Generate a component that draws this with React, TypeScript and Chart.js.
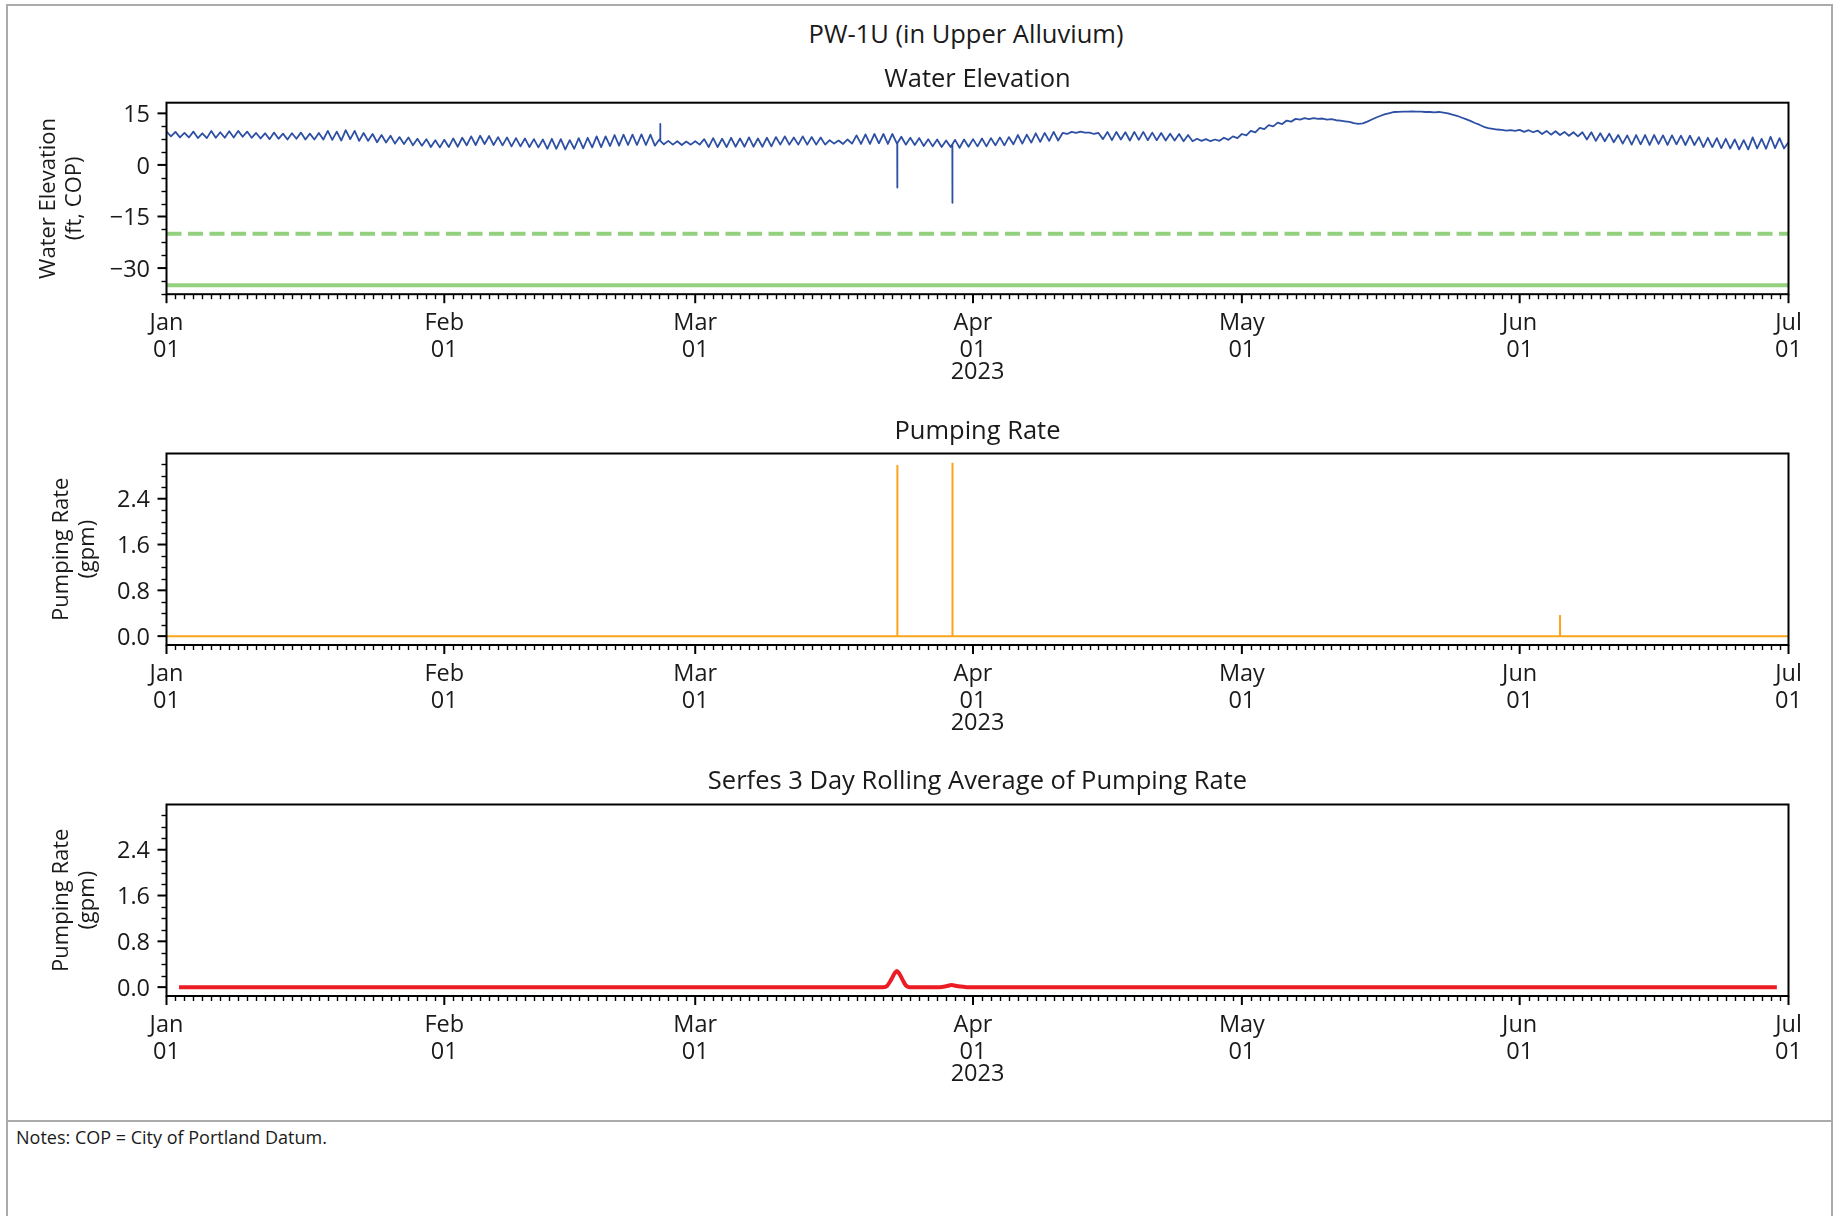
import React, { useEffect, useRef } from 'react';
import { Chart, registerables } from 'chart.js';

Chart.register(...registerables);

const FONT = '"Open Sans", "DejaVu Sans", sans-serif';
const TEXT = '#1a1a1a';

// ---------- axis categories ----------
const monthStartDays = [0, 31, 59, 90, 120, 151, 181]; // day offsets from 2023-01-01
const monthNames = ['Jan', 'Feb', 'Mar', 'Apr', 'May', 'Jun', 'Jul'];
const yearLabel = '2023';

const elevMajorTicks = [-30, -15, 0, 15];
const rateMajorTicks = [0, 0.8, 1.6, 2.4];

// ---------- water elevation (ft, COP) ----------
// daily high (at 00:00 of each day) and low (at 12:00)
const elevHighJan = [9.7, 9.6, 9.3, 9.7, 9.2, 9.9, 9.5, 9.8, 9.9, 9.7, 9.3, 9.2, 9.4, 9.1, 9.2, 9.4, 9.1, 9.3, 9.9, 9.7, 10.1, 9.9, 9.3, 9.0, 8.7, 8.5, 8.1, 8.0, 7.6, 7.5, 7.2];
const elevLowJan = [8.3, 8.0, 8.0, 7.8, 7.8, 7.9, 7.9, 8.0, 8.2, 7.9, 7.7, 7.5, 7.6, 7.4, 7.6, 7.4, 7.4, 7.4, 7.3, 7.1, 7.5, 7.0, 7.0, 6.6, 6.5, 6.2, 6.1, 5.7, 5.6, 5.2, 5.1];
const elevHighFeb = [7.3, 7.7, 7.9, 8.3, 8.5, 8.4, 8.1, 8.0, 7.8, 7.7, 7.5, 7.4, 7.6, 7.5, 7.2, 7.8, 7.9, 8.3, 8.3, 8.7, 8.8, 8.8, 8.9, 8.8, 7.4, 7.0, 6.9, 6.8];
const elevLowFeb = [5.2, 5.3, 5.7, 5.8, 6.1, 5.8, 5.7, 5.4, 5.4, 5.2, 5.1, 4.7, 4.7, 4.5, 4.7, 4.8, 5.1, 5.2, 5.5, 5.6, 5.8, 5.8, 5.8, 5.6, 6.0, 5.9, 5.8, 5.9];
const elevHighMar = [6.9, 7.5, 7.8, 7.6, 7.9, 7.7, 8.0, 7.7, 7.9, 8.1, 8.3, 8.0, 8.3, 8.1, 8.0, 7.2, 7.1, 7.4, 8.6, 8.9, 9.0, 9.0, 9.0, 8.2, 7.9, 7.8, 7.5, 7.4, 7.1, 7.3, 7.4];
const elevLowMar = [5.9, 5.2, 5.2, 5.2, 5.3, 5.3, 5.3, 5.3, 5.4, 5.9, 5.9, 5.9, 5.9, 5.9, 5.9, 6.2, 6.1, 6.2, 6.1, 6.1, 6.3, 6.1, 6.3, 5.9, 5.8, 5.5, 5.4, 5.2, 5.2, 5.0, 5.3];
const elevHighApr = [7.5, 7.7, 7.8, 8.0, 8.1, 8.7, 8.8, 9.2, 9.3, 9.6, 9.3, 9.6, 9.7, 9.4, 9.3, 9.6, 9.6, 9.5, 9.6, 9.6, 9.4, 9.3, 9.1, 9.0, 8.7, 7.6, 7.5, 7.4, 7.9, 8.3];
const elevLowApr = [5.4, 5.4, 5.7, 5.7, 6.0, 6.2, 6.5, 6.7, 7.0, 7.1, 9.0, 9.3, 9.4, 9.0, 7.5, 7.2, 7.4, 7.1, 7.3, 7.2, 7.2, 7.1, 7.1, 6.9, 6.9, 7.0, 6.9, 7.0, 7.3, 7.8];
const elevHighMay = [9.0, 9.9, 10.8, 11.6, 12.3, 12.9, 13.4, 13.6, 13.6, 13.5, 13.3, 12.9, 12.5, 11.95, 12.6, 13.8, 14.8, 15.4, 15.5, 15.6, 15.5, 15.4, 15.4, 15.0, 14.3, 13.3, 12.2, 11.1, 10.5, 10.2, 10.1];
const elevLowMay = [8.6, 9.5, 10.4, 11.2, 11.9, 12.6, 13.2, 13.3, 13.4, 13.2, 13.0, 12.7, 12.15, 12.1, 13.2, 14.3, 15.1, 15.45, 15.5, 15.5, 15.4, 15.3, 15.2, 14.6, 13.8, 12.8, 11.7, 10.7, 10.3, 10.0, 9.9];
const elevHighJun = [10.2, 10.1, 10.0, 9.9, 9.8, 9.6, 9.5, 9.5, 9.5, 9.2, 9.1, 8.7, 8.6, 8.7, 8.7, 8.7, 8.6, 8.6, 8.5, 8.5, 8.1, 7.9, 7.8, 7.6, 7.4, 7.2, 8.0, 7.6, 8.2, 7.8];
const elevLowJun = [9.6, 9.5, 9.0, 8.8, 8.7, 8.5, 8.3, 7.4, 7.0, 6.9, 6.6, 6.2, 5.9, 6.0, 5.8, 6.1, 5.8, 6.0, 5.8, 5.8, 5.2, 5.2, 4.9, 4.8, 4.5, 4.5, 4.8, 4.7, 4.9, 4.8];
const elevHighJul = [6.6];

// short transducer excursions: day, level just before, excursion level
const elevSpikeDays = [55.1, 81.55, 87.7];
const elevSpikeBase = [7.0, 6.3, 6.0];
const elevSpikeValues = [11.9, -6.6, -11.0];

// reference lines (ft, COP)
const dashedRefLevel = -20;
const solidRefLevel = -35;

// ---------- pumping rate (gpm) ----------
const pumpEventDays = [81.55, 87.7, 155.5];
const pumpEventRates = [2.99, 3.03, 0.37];
const pumpBaseRate = 0;

// ---------- Serfes 3 day rolling average (gpm) ----------
const avgDays = [1.4, 80.0, 80.4, 80.9, 81.25, 81.5, 81.75, 82.1, 82.5, 82.9, 86.3, 87.0, 87.6, 88.3, 89.3, 179.7];
const avgRates = [0, 0, 0.02, 0.14, 0.24, 0.28, 0.24, 0.14, 0.03, 0, 0, 0.015, 0.035, 0.015, 0, 0];

// ---------- build datasets ----------
const elevHighs = [...elevHighJan, ...elevHighFeb, ...elevHighMar, ...elevHighApr, ...elevHighMay, ...elevHighJun, ...elevHighJul];
const elevLows = [...elevLowJan, ...elevLowFeb, ...elevLowMar, ...elevLowApr, ...elevLowMay, ...elevLowJun];

function buildElevPoints() {
  const pts: { x: number; y: number }[] = [];
  for (let d = 0; d < elevHighs.length; d++) {
    pts.push({ x: d, y: elevHighs[d] });
    if (d < elevLows.length) pts.push({ x: d + 0.5, y: elevLows[d] });
  }
  elevSpikeDays.forEach((d, i) => {
    pts.push({ x: d - 0.01, y: elevSpikeBase[i] });
    pts.push({ x: d, y: elevSpikeValues[i] });
    pts.push({ x: d + 0.01, y: elevSpikeBase[i] });
  });
  pts.sort((a, b) => a.x - b.x);
  return pts;
}

function buildPumpPoints() {
  const pts: { x: number; y: number }[] = [{ x: monthStartDays[0], y: pumpBaseRate }];
  pumpEventDays.forEach((d, i) => {
    pts.push({ x: d - 0.02, y: pumpBaseRate });
    pts.push({ x: d, y: pumpEventRates[i] });
    pts.push({ x: d + 0.02, y: pumpBaseRate });
  });
  pts.push({ x: monthStartDays[monthStartDays.length - 1], y: pumpBaseRate });
  return pts;
}

const avgPoints = avgDays.map((d, i) => ({ x: d, y: avgRates[i] }));

const X_MIN = monthStartDays[0];
const X_MAX = monthStartDays[monthStartDays.length - 1];

function minorBetween(min: number, max: number, step: number, majors: number[]) {
  const out: number[] = [];
  const start = Math.ceil(min / step - 1e-9);
  const end = Math.floor(max / step + 1e-9);
  for (let k = start; k <= end; k++) {
    const v = +(k * step).toFixed(6);
    if (!majors.some((m) => Math.abs(m - v) < 1e-6)) out.push(v);
  }
  return out;
}

type Spec = {
  datasets: any[];
  yMin: number;
  yMax: number;
  yMajor: number[];
  yMinorStep: number;
  yFmt: (v: number) => string;
  yTitle: string[];
  yTitlePad: number;
  title: string;
  titleOffset: number;
  padTop: number;
  xAxisHeight: number;
};

const TICK_FONT = { family: FONT, size: 23.5, lineHeight: 1.13 };
const TITLE_SIZE = 25.5;

function decorPlugin(spec: Spec) {
  return {
    id: 'decor',
    afterDraw(chart: any) {
      const { ctx, chartArea: a, scales } = chart;
      const xs = scales.x;
      const ys = scales.y;
      ctx.save();
      ctx.strokeStyle = '#000';
      // x minor ticks (daily)
      ctx.lineWidth = 1.4;
      for (let d = X_MIN; d <= X_MAX; d++) {
        if (monthStartDays.includes(d)) continue;
        const px = Math.round(xs.getPixelForValue(d)) + 0.5;
        ctx.beginPath();
        ctx.moveTo(px, a.bottom);
        ctx.lineTo(px, a.bottom + 5);
        ctx.stroke();
      }
      // x major ticks (monthly)
      ctx.lineWidth = 2;
      monthStartDays.forEach((d) => {
        const px = xs.getPixelForValue(d);
        ctx.beginPath();
        ctx.moveTo(px, a.bottom);
        ctx.lineTo(px, a.bottom + 9);
        ctx.stroke();
      });
      // y minor ticks
      ctx.lineWidth = 1.4;
      minorBetween(spec.yMin, spec.yMax, spec.yMinorStep, spec.yMajor).forEach((v) => {
        const py = Math.round(ys.getPixelForValue(v)) + 0.5;
        ctx.beginPath();
        ctx.moveTo(a.left, py);
        ctx.lineTo(a.left - 5, py);
        ctx.stroke();
      });
      // y major ticks
      ctx.lineWidth = 2;
      spec.yMajor.forEach((v) => {
        const py = ys.getPixelForValue(v);
        ctx.beginPath();
        ctx.moveTo(a.left, py);
        ctx.lineTo(a.left - 9, py);
        ctx.stroke();
      });
      // frame
      ctx.lineWidth = 2;
      ctx.strokeRect(a.left, a.top, a.right - a.left, a.bottom - a.top);
      const cx = (a.left + a.right) / 2;
      ctx.fillStyle = TEXT;
      ctx.textAlign = 'center';
      ctx.textBaseline = 'middle';
      // year offset label
      ctx.font = `${TICK_FONT.size}px ${FONT}`;
      ctx.fillText(yearLabel, cx, a.bottom + 78);
      // subplot title
      ctx.font = `${TITLE_SIZE}px ${FONT}`;
      ctx.fillText(spec.title, cx, a.top - spec.titleOffset + 2);
      ctx.restore();
    },
  };
}

function buildConfig(spec: Spec): any {
  return {
    type: 'line',
    data: { datasets: spec.datasets },
    options: {
      responsive: false,
      maintainAspectRatio: false,
      animation: false,
      devicePixelRatio: 1,
      layout: { padding: { left: 0, right: 50.5, top: spec.padTop, bottom: 0 } },
      elements: { point: { radius: 0 }, line: { tension: 0 } },
      plugins: {
        legend: { display: false },
        tooltip: { enabled: false },
        title: { display: false },
      },
      scales: {
        x: {
          type: 'linear',
          min: X_MIN,
          max: X_MAX,
          grid: { display: false, drawTicks: false },
          border: { display: false },
          afterBuildTicks: (s: any) => {
            s.ticks = monthStartDays.map((v) => ({ value: v }));
          },
          afterFit: (s: any) => {
            s.height = spec.xAxisHeight;
          },
          ticks: {
            autoSkip: false,
            maxRotation: 0,
            minRotation: 0,
            padding: 16.25,
            color: TEXT,
            font: TICK_FONT,
            callback: (v: number) => {
              const i = monthStartDays.indexOf(v);
              return i >= 0 ? [monthNames[i], '01'] : '';
            },
          },
        },
        y: {
          type: 'linear',
          min: spec.yMin,
          max: spec.yMax,
          grid: { display: false, drawTicks: false },
          border: { display: false },
          afterBuildTicks: (s: any) => {
            s.ticks = spec.yMajor.map((v) => ({ value: v }));
          },
          afterFit: (s: any) => {
            s.width = 166.5;
          },
          ticks: {
            padding: 16.5,
            labelOffset: 2,
            color: TEXT,
            font: TICK_FONT,
            callback: (v: number) => spec.yFmt(v),
          },
          title: {
            display: true,
            text: spec.yTitle,
            color: TEXT,
            font: { family: FONT, size: 22, lineHeight: 1.18 },
            padding: { top: spec.yTitlePad, bottom: 0 },
          },
        },
      },
    },
    plugins: [decorPlugin(spec)],
  };
}

const elevFmt = (v: number) => (v < 0 ? '\u2212' + Math.abs(v) : String(v));
const rateFmt = (v: number) => v.toFixed(1);

const BLUE = '#2d4fa4';
const GREEN = '#93d17f';
const ORANGE = '#fba41c';
const RED = '#ec1c24';

export default function App() {
  const r1 = useRef<HTMLCanvasElement>(null);
  const r2 = useRef<HTMLCanvasElement>(null);
  const r3 = useRef<HTMLCanvasElement>(null);

  useEffect(() => {
    const c1 = new Chart(
      r1.current!,
      buildConfig({
        datasets: [
          { data: buildElevPoints(), borderColor: BLUE, borderWidth: 1.8, pointRadius: 0, borderJoinStyle: 'round' },
          {
            data: [{ x: X_MIN, y: dashedRefLevel }, { x: X_MAX, y: dashedRefLevel }],
            borderColor: GREEN, borderWidth: 4, borderDash: [15, 6.5], pointRadius: 0,
          },
          {
            data: [{ x: X_MIN, y: solidRefLevel }, { x: X_MAX, y: solidRefLevel }],
            borderColor: GREEN, borderWidth: 4, pointRadius: 0,
          },
        ],
        yMin: -37.6,
        yMax: 18.1,
        yMajor: elevMajorTicks,
        yMinorStep: 3.75,
        yFmt: elevFmt,
        yTitle: ['Water Elevation', '(ft, COP)'],
        yTitlePad: 36,
        title: 'Water Elevation',
        titleOffset: 25.3,
        padTop: 52.7,
        xAxisHeight: 100.8,
      })
    );
    const c2 = new Chart(
      r2.current!,
      buildConfig({
        datasets: [{ data: buildPumpPoints(), borderColor: ORANGE, borderWidth: 2, pointRadius: 0 }],
        yMin: -0.155,
        yMax: 3.19,
        yMajor: rateMajorTicks,
        yMinorStep: 0.2,
        yFmt: rateFmt,
        yTitle: ['Pumping Rate', '(gpm)'],
        yTitlePad: 49,
        title: 'Pumping Rate',
        titleOffset: 23.5,
        padTop: 58.5,
        xAxisHeight: 100,
      })
    );
    const c3 = new Chart(
      r3.current!,
      buildConfig({
        datasets: [
          { data: avgPoints, borderColor: RED, borderWidth: 4, pointRadius: 0, cubicInterpolationMode: 'monotone' },
        ],
        yMin: -0.155,
        yMax: 3.19,
        yMajor: rateMajorTicks,
        yMinorStep: 0.2,
        yFmt: rateFmt,
        yTitle: ['Pumping Rate', '(gpm)'],
        yTitlePad: 49,
        title: 'Serfes 3 Day Rolling Average of Pumping Rate',
        titleOffset: 24.5,
        padTop: 59.5,
        xAxisHeight: 109,
      })
    );
    return () => {
      c1.destroy();
      c2.destroy();
      c3.destroy();
    };
  }, []);

  const canvasStyle = (top: number, h: number): React.CSSProperties => ({
    position: 'absolute',
    left: 0,
    top,
    width: 1839,
    height: h,
    display: 'block',
  });

  return (
    <div
      style={{
        position: 'fixed',
        left: 0,
        top: 0,
        width: 1839,
        height: 1216,
        overflow: 'hidden',
        background: '#fff',
        fontFamily: FONT,
        color: TEXT,
      }}
    >
      <div
        style={{
          position: 'absolute',
          left: 6,
          top: 4,
          width: 1823,
          height: 1300,
          border: '2px solid #ababab',
        }}
      />
      <div style={{ position: 'absolute', left: 6, top: 1120, width: 1827, height: 2, background: '#ababab' }} />
      <div
        style={{
          position: 'absolute',
          left: 0,
          width: 1932,
          top: 18,
          lineHeight: '30px',
          fontSize: 25.5,
          textAlign: 'center',
          whiteSpace: 'nowrap',
        }}
      >
        PW-1U (in Upper Alluvium)
      </div>
      <canvas ref={r1} width={1839} height={345} style={canvasStyle(50, 345)} />
      <canvas ref={r2} width={1839} height={350} style={canvasStyle(395, 350)} />
      <canvas ref={r3} width={1839} height={360} style={canvasStyle(745, 360)} />
      <div
        style={{
          position: 'absolute',
          left: 16,
          top: 1126,
          lineHeight: '22px',
          fontSize: 18,
          whiteSpace: 'nowrap',
        }}
      >
        Notes: COP = City of Portland Datum.
      </div>
    </div>
  );
}
